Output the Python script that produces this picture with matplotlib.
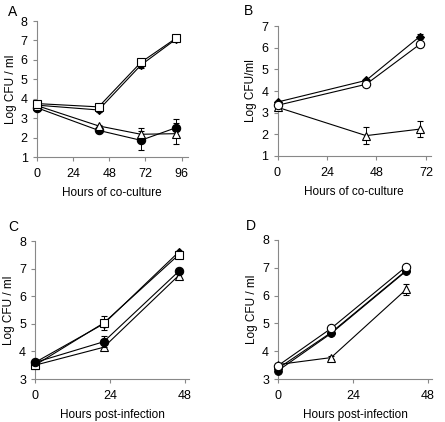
import numpy as np
import matplotlib
matplotlib.use("Agg")
import matplotlib.pyplot as plt

plt.rcParams['font.family'] = ['Liberation Sans', 'DejaVu Sans']

# panel A: hours of co-culture
a_x = [0, 41, 69, 92]
a_square = [3.75, 3.58, 5.87, 7.1]
a_square_err = [0.05, 0.05, 0.1, 0.05]
a_diamond = [3.67, 3.42, 5.73, 7.05]
a_diamond_err = [0.05, 0.1, 0.15, 0.05]
a_triangle = [3.65, 2.6, 2.17, 2.2]
a_triangle_err = [0.05, 0.05, 0.3, 0.55]
a_circle = [3.54, 2.37, 1.86, 2.5]
a_circle_err = [0.05, 0.05, 0.5, 0.46]

# panel B: hours of co-culture
b_x = [0, 43, 69]
b_diamond = [3.49, 4.49, 6.51]
b_diamond_err = [0.05, 0.05, 0.12]
b_circle = [3.34, 4.31, 6.15]
b_circle_err = [0.05, 0.05, 0.12]
b_triangle = [3.25, 1.94, 2.24]
b_triangle_err = [0.05, 0.38, 0.38]

# panel C: hours post-infection
c_x = [0, 22, 46]
c_diamond = [3.6, 5.0, 7.6]
c_square = [3.5, 5.03, 7.5]
c_square_err = [0.05, 0.25, 0.05]
c_circle = [3.6, 4.35, 6.9]
c_circle_err = [0.05, 0.2, 0.05]
c_triangle = [3.5, 4.15, 6.75]

# panel D: hours post-infection
d_x = [0, 17, 41]
d_circle_open = [3.48, 4.82, 7.04]
d_circle_open_err = [0.05, 0.1, 0.05]
d_diamond = [3.38, 4.67, 6.9]
d_circle = [3.3, 4.64, 6.88]
d_triangle = [3.52, 3.77, 6.22]
d_triangle_err = [0.05, 0.05, 0.2]

W, H = 445, 422
fig = plt.figure(figsize=(W / 100, H / 100), dpi=100)


def make_ax(left, right, top, bottom):
    ax = fig.add_axes([left / W, 1 - bottom / H, (right - left) / W, (bottom - top) / H])
    for s in ['top', 'right']:
        ax.spines[s].set_visible(False)
    for s in ['left', 'bottom']:
        ax.spines[s].set_color('#888888')
        ax.spines[s].set_linewidth(0.8)
    ax.tick_params(colors='#888888', labelcolor='black', labelsize=9, length=3,
                   width=0.8)
    ax.tick_params(axis='x', pad=5)
    return ax


def series(ax, x, y, err, marker, face, ms, z):
    ax.errorbar(x, y, yerr=err, color='black', lw=0.8, marker=marker, ms=ms,
                mfc=face, mec='black', mew=0.8, capsize=2.2, elinewidth=0.7,
                capthick=0.7, zorder=z, clip_on=False)


# A
ax = make_ax(36.7, 187.7, 21, 157)
series(ax, a_x, a_circle, a_circle_err, 'o', 'black', 6, 3)
series(ax, a_x, a_triangle, a_triangle_err, '^', 'white', 6, 4)
series(ax, a_x, a_diamond, a_diamond_err, 'D', 'black', 4.5, 3)
series(ax, a_x, a_square, a_square_err, 's', 'white', 6, 4)
ax.set_xlim(0, 100)
ax.set_ylim(1, 8)
ax.set_xticks([0, 24, 48, 72, 96])
ax.set_yticks(range(1, 9))
ax.set_xlabel('Hours of co-culture', fontsize=8.5, labelpad=5)
ax.set_ylabel('Log CFU / ml', fontsize=8.5, labelpad=3)
fig.text(8 / W, 1 - 12 / H, 'A', fontsize=10, va='center')

# B
ax = make_ax(277.5, 431, 26, 156)
series(ax, b_x, b_triangle, b_triangle_err, '^', 'white', 6, 3)
series(ax, b_x, b_diamond, b_diamond_err, 'D', 'black', 4.5, 3)
series(ax, b_x, b_circle, b_circle_err, 'o', 'white', 6, 4)
ax.set_xlim(0, 74.5)
ax.set_ylim(1, 7)
ax.set_xticks([0, 24, 48, 72])
ax.set_yticks(range(1, 8))
ax.set_xlabel('Hours of co-culture', fontsize=8.5, labelpad=5)
ax.set_ylabel('Log CFU/ml', fontsize=8.5, labelpad=3)
fig.text(244 / W, 1 - 11 / H, 'B', fontsize=10, va='center')

# C
ax = make_ax(35, 189, 241, 379)
series(ax, c_x, c_diamond, None, 'D', 'black', 4.5, 3)
series(ax, c_x, c_square, c_square_err, 's', 'white', 6, 4)
series(ax, c_x, c_triangle, None, '^', 'white', 6, 3)
series(ax, c_x, c_circle, c_circle_err, 'o', 'black', 6, 4)
ax.set_xlim(0, 49.3)
ax.set_ylim(3, 8)
ax.set_xticks([0, 24, 48])
ax.set_yticks(range(3, 9))
ax.set_xlabel('Hours post-infection', fontsize=8.5, labelpad=5)
ax.set_ylabel('Log CFU / ml', fontsize=8.5, labelpad=3)
fig.text(8 / W, 1 - 227 / H, 'C', fontsize=10, va='center')

# D
ax = make_ax(278, 432, 240, 379)
series(ax, d_x, d_triangle, d_triangle_err, '^', 'white', 6, 3)
series(ax, d_x, d_circle, None, 'o', 'black', 5.5, 3)
series(ax, d_x, d_diamond, None, 'D', 'black', 4.5, 3)
series(ax, d_x, d_circle_open, d_circle_open_err, 'o', 'white', 6, 4)
ax.set_xlim(0, 49.3)
ax.set_ylim(3, 8)
ax.set_xticks([0, 24, 48])
ax.set_yticks(range(3, 9))
ax.set_xlabel('Hours post-infection', fontsize=8.5, labelpad=5)
ax.set_ylabel('Log CFU / ml', fontsize=8.5, labelpad=3)
fig.text(246 / W, 1 - 226 / H, 'D', fontsize=10, va='center')

fig.savefig('out.png', dpi=100)
